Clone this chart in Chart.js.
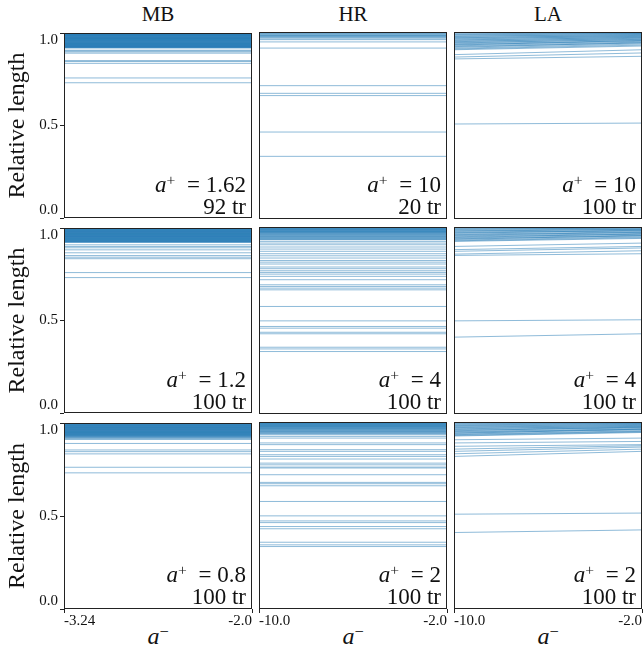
<!DOCTYPE html>
<html>
<head>
<meta charset="utf-8">
<script src="https://cdn.jsdelivr.net/npm/chart.js@4.4.1/dist/chart.umd.min.js"></script>
<style>
  body { margin: 0; background: #fff; width: 643px; height: 649px; overflow: hidden; position: relative;
         font-family: 'Liberation Serif', serif; color: #111; }
  canvas { position: absolute; }
  .coltitle { position: absolute; top: 4px; width: 188px; text-align: center; font-size: 21px; line-height: 21px; }
  .ann { position: absolute; text-align: right; font-size: 23px; line-height: 20px; white-space: nowrap; }
  .xlab { position: absolute; top: 624px; width: 188px; text-align: center; font-size: 24px; line-height: 24px; }
  .sup { position: relative; top: -0.42em; font-size: 0.68em; }
  .ann .sup { margin-right: 6px; }
</style>
</head>
<body>
<script>
// column / row labels
const methods = ['MB', 'HR', 'LA'];
const aPlus = [['1.62', '1.2', '0.8'], ['10', '4', '2'], ['10', '4', '2']];
const trajCounts = [[92, 100, 100], [20, 100, 100], [100, 100, 100]];
const aMinusMin = [-3.24, -10.0, -10.0];
const aMinusMax = -2.0;
const yTicks = [0, 0.5, 1];

// MB: relative length per trajectory (flat over a-)
const mbTop = [1.0, 0.998, 0.997, 0.995, 0.994, 0.994, 0.992, 0.991, 0.989, 0.988, 0.987, 0.985, 0.985, 0.984,
  0.982, 0.981, 0.979, 0.978, 0.977, 0.976, 0.974, 0.973, 0.972, 0.971, 0.969, 0.968, 0.968, 0.966, 0.965, 0.963,
  0.962, 0.961, 0.960, 0.958, 0.957, 0.956, 0.954, 0.953, 0.951, 0.950, 0.949, 0.947, 0.946, 0.945, 0.943, 0.942,
  0.941, 0.940, 0.938, 0.937, 0.936, 0.934, 0.933, 0.932, 0.931, 0.929, 0.928, 0.927, 0.926, 0.925, 0.923, 0.922,
  0.921, 0.919, 0.907, 0.903, 0.898, 0.891, 0.851, 0.846, 0.836, 0.757, 0.731];
const mbMid = [1.0, 0.999, 0.997, 0.996, 0.994, 0.993, 0.992, 0.990, 0.989, 0.987, 0.986, 0.985, 0.983, 0.982,
  0.981, 0.979, 0.978, 0.977, 0.975, 0.974, 0.973, 0.971, 0.970, 0.969, 0.967, 0.966, 0.965, 0.963, 0.962, 0.961,
  0.959, 0.958, 0.957, 0.955, 0.954, 0.953, 0.951, 0.950, 0.949, 0.947, 0.946, 0.944, 0.943, 0.942, 0.940, 0.939,
  0.938, 0.936, 0.935, 0.934, 0.932, 0.931, 0.929, 0.928, 0.927, 0.925, 0.924, 0.922, 0.909, 0.900, 0.893, 0.882,
  0.866, 0.851, 0.842, 0.834, 0.759, 0.732];
const mbBot = [1.0, 0.998, 0.997, 0.996, 0.994, 0.993, 0.991, 0.990, 0.989, 0.987, 0.986, 0.984, 0.983, 0.982,
  0.980, 0.979, 0.977, 0.976, 0.975, 0.973, 0.972, 0.970, 0.969, 0.968, 0.966, 0.965, 0.963, 0.962, 0.961, 0.959,
  0.958, 0.956, 0.955, 0.954, 0.952, 0.951, 0.949, 0.948, 0.947, 0.945, 0.944, 0.942, 0.941, 0.940, 0.938, 0.937,
  0.935, 0.934, 0.932, 0.931, 0.929, 0.927, 0.925, 0.922, 0.919, 0.915, 0.912, 0.890, 0.855, 0.846, 0.834, 0.762,
  0.732];

// HR
const hrTop = [1.0, 0.997, 0.995, 0.991, 0.989, 0.985, 0.982, 0.980, 0.977, 0.974, 0.971, 0.964, 0.959, 0.947,
  0.914, 0.713, 0.672, 0.660, 0.465, 0.335];
const hrMid = [1.0, 0.998, 0.996, 0.995, 0.993, 0.991, 0.990, 0.988, 0.986, 0.985, 0.983, 0.981, 0.979, 0.977,
  0.976, 0.974, 0.972, 0.970, 0.968, 0.966, 0.963, 0.961, 0.958, 0.956, 0.953, 0.950, 0.948, 0.945, 0.942, 0.940,
  0.937, 0.934, 0.932, 0.923, 0.914, 0.905, 0.893, 0.882, 0.870, 0.857, 0.846, 0.834, 0.821, 0.812, 0.802, 0.786,
  0.777, 0.766, 0.757, 0.748, 0.736, 0.718, 0.691, 0.682, 0.673, 0.664, 0.575, 0.498, 0.468, 0.459, 0.437, 0.429,
  0.357, 0.348, 0.334];
const hrBot = [1.0, 0.999, 0.997, 0.995, 0.994, 0.992, 0.990, 0.989, 0.987, 0.985, 0.983, 0.982, 0.980, 0.978,
  0.976, 0.974, 0.973, 0.971, 0.968, 0.966, 0.964, 0.962, 0.959, 0.957, 0.954, 0.951, 0.949, 0.946, 0.943, 0.940,
  0.937, 0.932, 0.923, 0.914, 0.888, 0.879, 0.852, 0.843, 0.825, 0.816, 0.802, 0.780, 0.771, 0.759, 0.754, 0.718,
  0.677, 0.670, 0.659, 0.575, 0.498, 0.471, 0.462, 0.441, 0.429, 0.357, 0.343, 0.334];

// LA: value at a- = min and at a- = -2
const laTopStart = [0.998, 0.995, 0.990, 0.987, 0.983, 0.979, 0.976, 0.972, 0.969, 0.966, 0.962, 0.958, 0.955,
  0.951, 0.948, 0.944, 0.941, 0.937, 0.933, 0.930, 0.926, 0.922, 0.918, 0.913, 0.909, 0.905, 0.879, 0.866, 0.856, 0.508];
const laTopEnd = [1.0, 0.993, 0.996, 0.990, 0.992, 0.985, 0.987, 0.980, 0.982, 0.975, 0.977, 0.970, 0.972,
  0.964, 0.967, 0.959, 0.961, 0.954, 0.950, 0.955, 0.946, 0.941, 0.943, 0.936, 0.930, 0.925, 0.905, 0.888, 0.870, 0.513];
const laMidStart = [0.998, 0.994, 0.991, 0.987, 0.984, 0.980, 0.977, 0.973, 0.970, 0.966, 0.962, 0.959, 0.955,
  0.952, 0.948, 0.944, 0.941, 0.937, 0.934, 0.930, 0.926, 0.923, 0.896, 0.879, 0.870, 0.855, 0.848, 0.498, 0.411];
const laMidEnd = [1.0, 0.997, 0.993, 0.995, 0.989, 0.986, 0.988, 0.981, 0.978, 0.983, 0.974, 0.970, 0.972,
  0.965, 0.961, 0.963, 0.956, 0.952, 0.954, 0.947, 0.943, 0.939, 0.914, 0.896, 0.888, 0.873, 0.857, 0.504, 0.429];
const laBotStart = [0.998, 0.995, 0.991, 0.988, 0.984, 0.981, 0.977, 0.974, 0.970, 0.967, 0.963, 0.960, 0.956,
  0.953, 0.949, 0.946, 0.942, 0.939, 0.935, 0.932, 0.928, 0.925, 0.905, 0.888, 0.870, 0.855, 0.843, 0.830, 0.816,
  0.507, 0.409];
const laBotEnd = [1.0, 0.996, 0.994, 0.990, 0.992, 0.985, 0.987, 0.980, 0.982, 0.975, 0.977, 0.971, 0.968,
  0.973, 0.964, 0.961, 0.958, 0.962, 0.953, 0.950, 0.947, 0.944, 0.914, 0.896, 0.879, 0.873, 0.866, 0.855, 0.843,
  0.513, 0.423];

// [column][row] -> [start values, end values]
const panelData = [
  [[mbTop, mbTop], [mbMid, mbMid], [mbBot, mbBot]],
  [[hrTop, hrTop], [hrMid, hrMid], [hrBot, hrBot]],
  [[laTopStart, laTopEnd], [laMidStart, laMidEnd], [laBotStart, laBotEnd]]
];

// layout (page pixels)
const panelLeft = [64, 259, 454];
const panelTop = [32, 227, 422];
const panelW = 188, panelH = 187;
const yAxisW = 64, xAxisH = 40, padT = 16, padB = 16, padL = 4, padR = 1;
const lineColor = 'rgba(31,119,180,0.5)';
const ink = '#111';
const serif = "'Liberation Serif', serif";

Chart.defaults.font.family = serif;
Chart.defaults.color = ink;

// black frame round each panel
const framePlugin = {
  id: 'frame',
  afterDatasetsDraw(chart) {
    const {ctx, chartArea: a} = chart;
    ctx.save();
    ctx.strokeStyle = '#222';
    ctx.lineWidth = 1;
    ctx.strokeRect(a.left + 0.5, a.top + 0.5, a.width - 1, a.height - 1);
    ctx.restore();
  }
};

function xLabel(v) {
  const s = String(v);
  return s.includes('.') ? s : v.toFixed(1);
}

function addDiv(cls, left, top, html) {
  const d = document.createElement('div');
  d.className = cls;
  d.style.left = left + 'px';
  if (top !== null) d.style.top = top + 'px';
  d.innerHTML = html;
  document.body.appendChild(d);
  return d;
}

for (let c = 0; c < 3; c++) {
  addDiv('coltitle', panelLeft[c], null, methods[c]);
  addDiv('xlab', panelLeft[c], null, '<i>a</i><span class="sup">\u2212</span>');

  for (let r = 0; r < 3; r++) {
    const showY = c === 0, showX = r === 2;
    const left = showY ? yAxisW : padL;
    const bottom = showX ? xAxisH : padB;
    const canvas = document.createElement('canvas');
    canvas.width = left + panelW + padR;
    canvas.height = padT + panelH + bottom;
    canvas.style.left = (panelLeft[c] - left) + 'px';
    canvas.style.top = (panelTop[r] - padT) + 'px';
    document.body.appendChild(canvas);

    const xMin = aMinusMin[c];
    const [starts, ends] = panelData[c][r];
    const datasets = starts.map((v, i) => ({
      data: [{x: xMin, y: v}, {x: aMinusMax, y: ends[i]}],
      borderColor: lineColor,
      borderWidth: 1,
      pointRadius: 0,
      fill: false
    }));

    const xScale = {
      type: 'linear', min: xMin, max: aMinusMax, display: showX,
      afterBuildTicks: s => { s.ticks = [{value: xMin}, {value: aMinusMax}]; },
      ticks: { callback: xLabel, align: 'inner', maxRotation: 0, autoSkip: false, padding: 1,
               font: {family: serif, size: 15, lineHeight: 1}, color: ink },
      grid: { drawOnChartArea: false, tickLength: 4, color: '#222' },
      border: { display: false }
    };
    if (showX) xScale.afterFit = s => { s.height = xAxisH; };

    const yScale = {
      type: 'linear', min: 0, max: 1, display: showY,
      afterBuildTicks: s => { s.ticks = yTicks.map(v => ({value: v})); },
      ticks: {
        callback: v => v === 1 ? ['', '1.0'] : v === 0 ? ['0.0', ''] : v.toFixed(1),
        padding: 2, font: {family: serif, size: 15, lineHeight: 1}, color: ink
      },
      grid: { drawOnChartArea: false, tickLength: 4, color: '#222' },
      border: { display: false },
      title: { display: true, text: 'Relative length', color: ink, padding: {top: 3, bottom: 0},
               font: {family: serif, size: 24, lineHeight: 1.2} }
    };
    if (showY) yScale.afterFit = s => { s.width = yAxisW; };

    new Chart(canvas, {
      type: 'line',
      data: { datasets },
      options: {
        responsive: false,
        animation: false,
        events: [],
        layout: { padding: { top: padT, right: padR, left: showY ? 0 : padL, bottom: showX ? 0 : padB } },
        plugins: { legend: { display: false }, tooltip: { enabled: false } },
        scales: { x: xScale, y: yScale }
      },
      plugins: [framePlugin]
    });

    const ann = addDiv('ann', panelLeft[c], panelTop[r] + panelH - 44,
      '<i>a</i><span class="sup">+</span> = ' + aPlus[c][r] + '<br>' + trajCounts[c][r] + ' tr');
    ann.style.width = (panelW - 6) + 'px';
  }
}
</script>
</body>
</html>
